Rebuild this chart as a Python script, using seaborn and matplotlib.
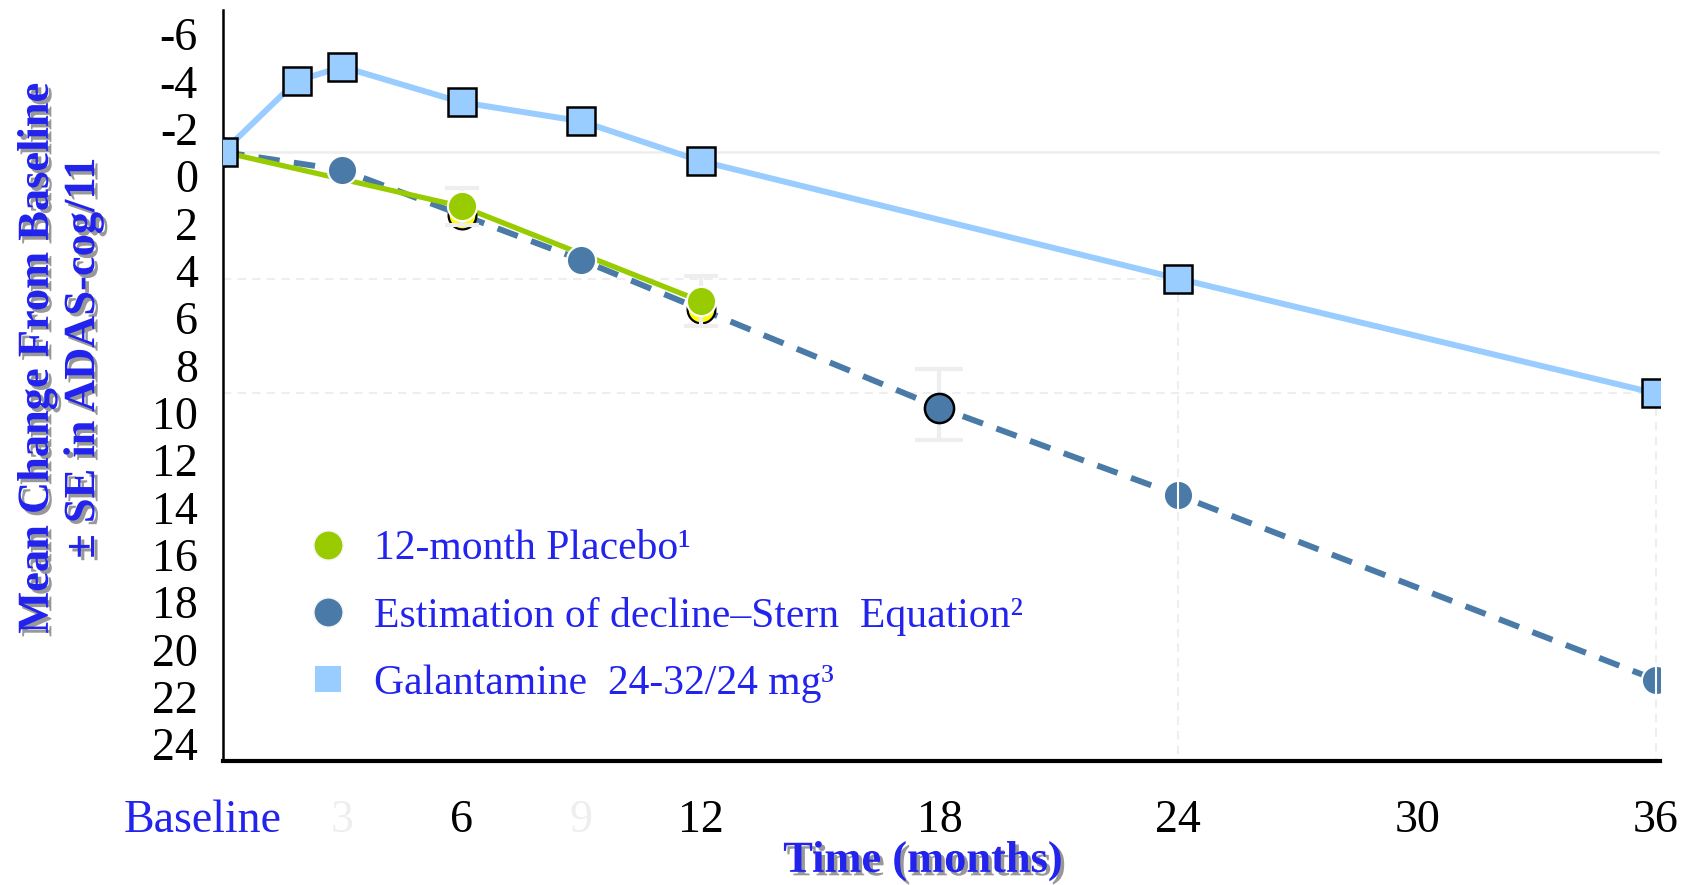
import matplotlib
matplotlib.use("Agg")
import matplotlib.pyplot as plt
import matplotlib.patheffects as pe
from matplotlib.transforms import ScaledTranslation
from matplotlib.lines import Line2D
import seaborn as sns
import pandas as pd

# data (y axis = change in ADAS-cog/11, inverted)
gal_months = [0, 1.85, 3, 6, 9, 12, 24, 36]
gal_values = [0.0, -3.0, -3.6, -2.1, -1.3, 0.38, 5.35, 10.2]

stern_months = [0, 3, 9, 18, 24, 36]
stern_values = [0.0, 0.76, 4.56, 10.8, 14.5, 22.3]

placebo_months = [0, 6, 12]
placebo_values = [0.0, 2.3, 6.3]
placebo_se = [0.0, 0.8, 1.05]

observed_months = [0, 6, 12]
observed_values = [0.0, 2.66, 6.64]

stern_se_18 = 1.5
stern_se_late = 0.7

y_ticks = list(range(-6, 26, 2))
x_ticks = [0, 3, 6, 9, 12, 18, 24, 30, 36]
x_labels = ["Baseline", "3", "6", "9", "12", "18", "24", "30", "36"]

legend_labels = ["12-month Placebo\u00b9",
                 "Estimation of decline\u2013Stern  Equation\u00b2",
                 "Galantamine  24-32/24 mg\u00b3"]

GREEN = "#99cc00"
STEEL = "#4a7aa7"
LIGHT = "#99ccff"
BLUE = "#2323ee"
PALE = "#eeeeee"

sns.set_style("white")
plt.rcParams["font.family"] = ["Liberation Serif", "DejaVu Serif"]

gal = pd.DataFrame({"month": gal_months, "value": gal_values})
stern = pd.DataFrame({"month": stern_months, "value": stern_values})
placebo = pd.DataFrame({"month": placebo_months, "value": placebo_values})

fig = plt.figure(figsize=(16.94, 8.85), dpi=100)
ax = fig.add_axes([0.1316, 0.1401, 0.8483, 0.8486])

# grid pieces
ax.axhline(0, color=PALE, lw=1.8, zorder=0.5)
ax.hlines(gal_values[-2], 0, gal_months[-2], colors=PALE, lw=1.5, linestyles=(0, (4, 3)), zorder=0.5)
ax.hlines(gal_values[-1], 0, gal_months[-1], colors=PALE, lw=1.5, linestyles=(0, (4, 3)), zorder=0.5)
ax.vlines(gal_months[-2], gal_values[-2], 26, colors=PALE, lw=1.5, linestyles=(0, (4, 3)), zorder=0.5)
ax.vlines(gal_months[-1], gal_values[-1], 26, colors=PALE, lw=1.5, linestyles=(0, (4, 3)), zorder=0.5)

# Stern estimation (dashed)
sns.lineplot(data=stern, x="month", y="value", ax=ax, color=STEEL, linewidth=4.3,
             linestyle=(0, (3.6, 2.4)), sort=False, zorder=2)

# placebo line
sns.lineplot(data=placebo, x="month", y="value", ax=ax, color=GREEN, linewidth=3.8,
             sort=False, zorder=3)

# observed points (yellow, black edge)
ax.plot(observed_months, observed_values, "o", ms=20, mfc="#ffff00", mec="black",
        mew=1.6, ls="none", zorder=3.5)

# error bars
ax.errorbar(placebo_months[1:], placebo_values[1:], yerr=placebo_se[1:], fmt="none",
            ecolor=PALE, elinewidth=3, capsize=12, capthick=3, zorder=3.7)
ax.errorbar([stern_months[3]], [stern_values[3] - 0.15], yerr=stern_se_18, fmt="none",
            ecolor=PALE, elinewidth=3, capsize=17, capthick=3, zorder=3.7)

# placebo markers
ax.plot(placebo_months[1:], placebo_values[1:], "o", ms=21, mfc=GREEN, mec="white",
        mew=1.5, ls="none", zorder=4)

# Stern markers
idx = [1, 2, 4, 5]
ax.plot([stern_months[i] for i in idx], [stern_values[i] for i in idx], "o", ms=21,
        mfc=STEEL, mec="white", mew=1.5, ls="none", zorder=4)
ax.plot([stern_months[3]], [stern_values[3]], "o", ms=21, mfc=STEEL, mec="black",
        mew=1.8, ls="none", zorder=4)
ax.errorbar(stern_months[4:], stern_values[4:], yerr=stern_se_late, fmt="none",
            ecolor="white", elinewidth=1.5, capsize=0, zorder=4.2)

# Galantamine
sns.lineplot(data=gal, x="month", y="value", ax=ax, color=LIGHT, linewidth=4.3,
             sort=False, zorder=5)
ax.plot(gal_months, gal_values, "s", ms=20, mfc=LIGHT, mec="black", mew=1.8,
        ls="none", zorder=6)

ax.set_xlim(0, 36.1)
ax.set_ylim(25.73, -6)
ax.set_xlabel("")
ax.set_ylabel("")

for side in ["top", "right"]:
    ax.spines[side].set_visible(False)
ax.spines["left"].set_color("black")
ax.spines["left"].set_linewidth(1.8)
ax.spines["bottom"].set_color("black")
ax.spines["bottom"].set_linewidth(3)
ax.spines["bottom"].set_path_effects([pe.withSimplePatchShadow(offset=(0, -1.5), shadow_rgbFace="gray", alpha=0.6)])

ax.set_yticks(y_ticks)
ax.set_yticklabels([str(v) for v in y_ticks])
ax.tick_params(axis="y", direction="out", length=11, width=1.5, color=PALE,
               labelsize=33, labelcolor="black", pad=7)
for lab in ax.get_yticklabels():
    lab.set_transform(lab.get_transform() + ScaledTranslation(0, -0.24, fig.dpi_scale_trans))

ax.set_xticks(x_ticks)
ax.set_xticklabels(x_labels)
ax.tick_params(axis="x", direction="out", length=12, width=1.5, color=PALE,
               labelsize=33, labelcolor="black", pad=16)
xl = ax.get_xticklabels()
xl[0].set_color(BLUE)
xl[0].set_transform(xl[0].get_transform() + ScaledTranslation(-0.20, 0, fig.dpi_scale_trans))
xl[1].set_color(PALE)
xl[3].set_color(PALE)

shadow = [pe.withSimplePatchShadow(offset=(2.5, -2.5), shadow_rgbFace="#444444", alpha=0.55)]
fig.text(0.0354, 0.5955, "Mean Change From Baseline\n\u00b1 SE in ADAS-cog/11",
         rotation=90, ha="center", va="center", multialignment="center",
         fontsize=32, fontweight="bold", color=BLUE, linespacing=1.2,
         path_effects=shadow)
fig.text(0.545, 0.027, "Time (months)", ha="center", va="center",
         fontsize=32, fontweight="bold", color=BLUE, path_effects=shadow)

handles = [
    Line2D([], [], marker="o", ls="none", ms=21, mfc=GREEN, mec="#f4f4f4", mew=1),
    Line2D([], [], marker="o", ls="none", ms=21, mfc=STEEL, mec="#f4f4f4", mew=1),
    Line2D([], [], marker="s", ls="none", ms=19, mfc=LIGHT, mec=LIGHT, mew=0),
]
leg = ax.legend(handles, legend_labels, loc="upper left", bbox_to_anchor=(0.047, 0.33),
                frameon=False, fontsize=30, labelcolor=BLUE, handlelength=1.0,
                handletextpad=0.6, labelspacing=0.68, borderaxespad=0)

fig.savefig("out.png", dpi=100)
